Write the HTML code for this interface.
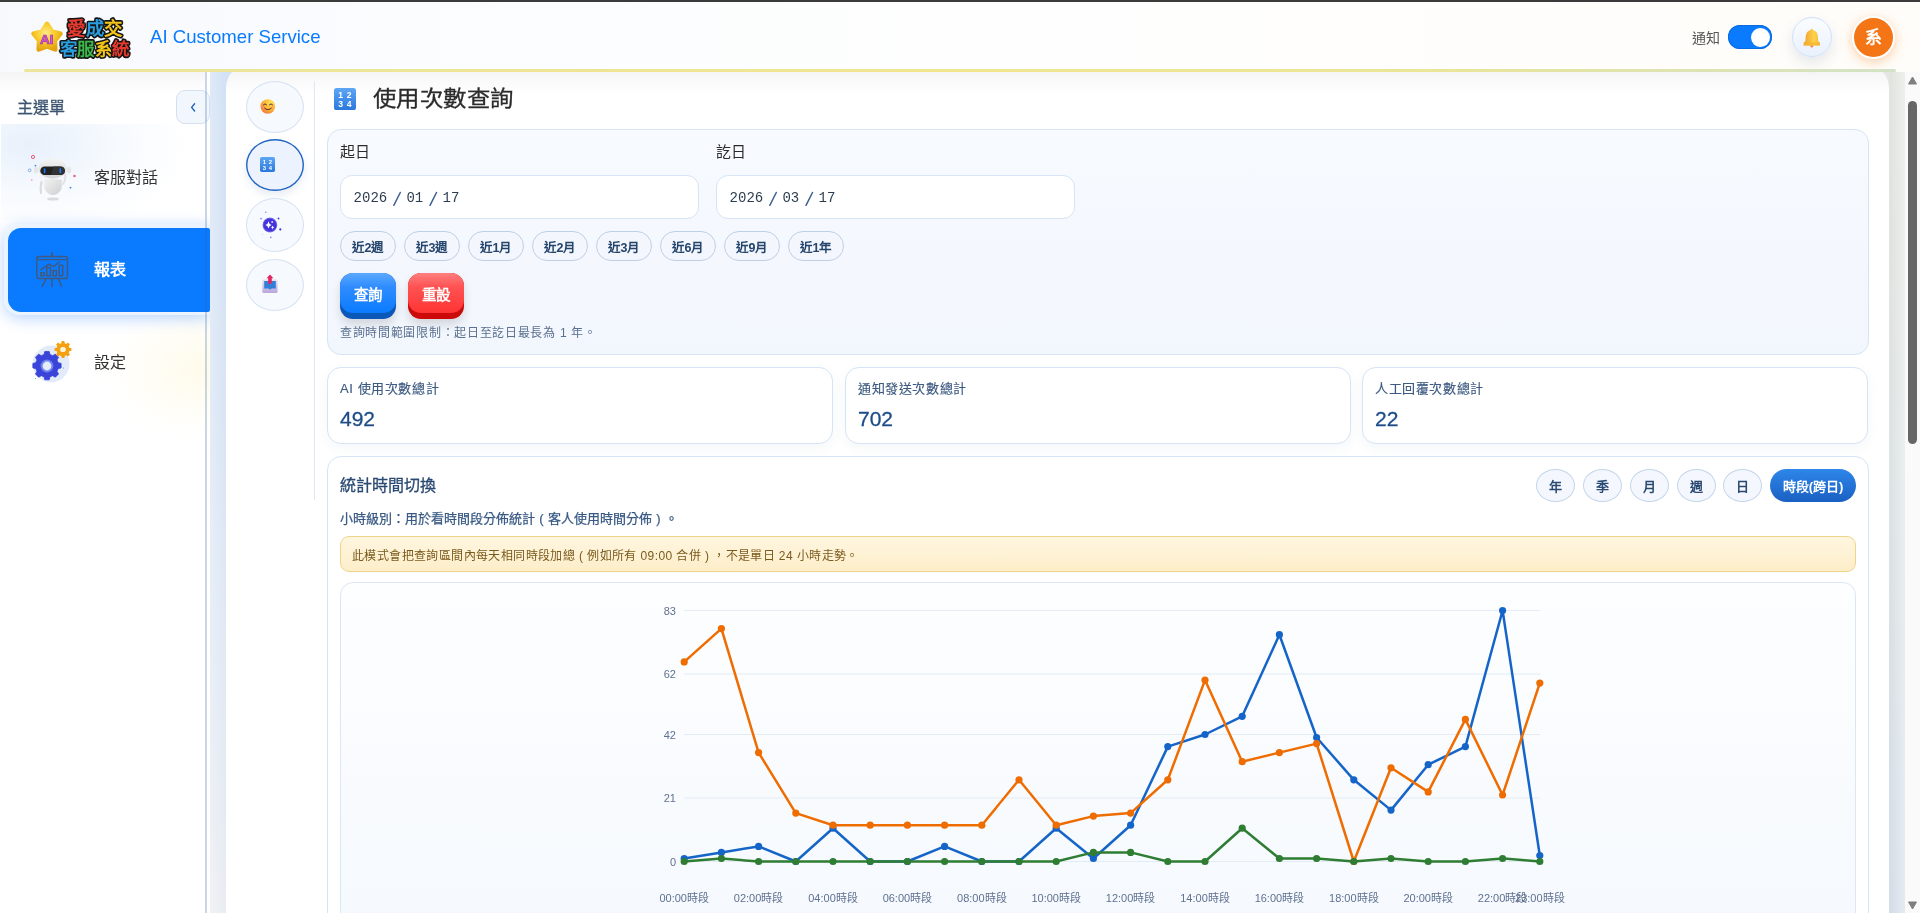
<!DOCTYPE html>
<html lang="zh-TW"><head><meta charset="utf-8">
<style>
*{box-sizing:border-box;margin:0;padding:0}
html,body{width:1920px;height:913px;overflow:hidden;background:#fff;font-family:"Liberation Sans",sans-serif;color:#333;text-spacing-trim:space-all}
.abs{position:absolute}
.fp{display:inline-block;width:1em;text-align:center}
#topline{left:0;top:0;width:1920px;height:2px;background:#3b3b3b}
#header{left:0;top:2px;width:1920px;height:70px;background:linear-gradient(90deg,#f7f9fd 0%,#fcfdfe 30%,#fefefe 55%,#fffdf9 100%)}
#hline{left:24px;top:69px;width:1872px;height:3px;border-radius:2px;background:linear-gradient(90deg,#ebe49c 0%,#f0e68f 50%,#eae597 75%,#d3e2c7 100%)}
#hshadow{left:0;top:72px;width:1905px;height:22px;background:linear-gradient(#f1f1f1,rgba(255,255,255,0))}
.title{left:150px;top:26px;font-size:18.6px;line-height:22px;color:#0a7bff;white-space:nowrap}

/* sidebar */
#sidebar{left:0;top:72px;width:205px;height:841px;background:linear-gradient(180deg,#f4f4f4 0px,#fafafa 10px,#fff 22px);overflow:hidden}
#sbline{left:205px;top:72px;width:2px;height:841px;background:rgba(40,90,160,.25)}
#lstrip{left:210px;top:72px;width:40px;height:841px;background:linear-gradient(90deg,rgba(255,255,255,.3) 0,rgba(255,255,255,0) 16px),linear-gradient(180deg,#d2e1f4 0%,#d8e4f4 40%,#dfe8f5 65%,#e9ecf1 100%)}
#rstrip{left:1865px;top:72px;width:40px;height:841px;background:linear-gradient(90deg,rgba(0,0,0,0) 24px,rgba(0,0,0,.015) 25px,rgba(255,255,255,.35) 40px),linear-gradient(180deg,#e4e7e1 0%,#e0e6e6 45%,#d7e0eb 100%)}
#scroll{left:1905px;top:72px;width:15px;height:841px;background:#fafafa}
.menuhd{left:17px;top:97.5px;font-size:16px;line-height:20px;color:#3d5470;-webkit-text-stroke:.3px #3d5470}
.collapse{left:176px;top:90px;width:34px;height:34px;border:1px solid #d3e0f1;border-radius:9px;background:#f2f7fe}
.item1bg{left:1px;top:124px;width:204px;height:96px;background:radial-gradient(ellipse 160px 90px at 30px 20px,#e8f0fb 0%,rgba(240,246,253,.6) 50%,rgba(255,255,255,0) 100%)}
.mtext{font-size:16px;line-height:20px;color:#333;white-space:nowrap}
.active{left:4px;top:224px;width:206px;height:91px;border-radius:16px 3px 3px 16px;background:rgba(232,242,255,.9);box-shadow:0 3px 16px rgba(10,110,255,.3)}
.activein{left:8px;top:228px;width:202px;height:83.5px;border-radius:13px 2px 2px 13px;background:#0a7bff}
.glow{left:90px;top:300px;width:200px;height:160px;background:radial-gradient(ellipse 110px 70px at 120px 70px,rgba(255,246,205,.42),rgba(255,255,255,0))}

/* main */
#main{left:226px;top:64px;width:1663px;height:900px;background:linear-gradient(180deg,#f5f5f5 8px,#fafafa 18px,#fff 30px);border-radius:24px 24px 0 0}
.circ{left:246px;width:58px;border:1px solid #d5e2f3;border-radius:50%;background:#f6f9fe;font-size:15px;line-height:1;display:flex;align-items:center;justify-content:center}
.circ.act{border:none;background:#ecf3fe;box-shadow:inset 0 0 0 1.4px #1f63c3,0 4px 10px rgba(40,90,160,.12)}
#sep{left:314px;top:81px;width:1px;height:419px;background:#dfe7f2}
.ptitle{left:373px;top:85.3px;transform:scaleY(.9);letter-spacing:.45px;font-size:23.4px;line-height:28px;color:#2b2b2b;-webkit-text-stroke:.35px #2b2b2b;white-space:nowrap}
.card{border:1px solid #d6e4f5;border-radius:14px}
#qcard{left:327px;top:129px;width:1542px;height:226px;background:linear-gradient(180deg,#f7faff,#f2f6fd)}
.lbl{font-size:15px;line-height:18px;color:#2b2b2b;white-space:nowrap}
.date{top:175px;width:359px;height:44px;border:1px solid #d6e4f5;border-radius:12px;background:#fff}
.dseg{position:absolute;top:14.5px;font-family:"Liberation Mono",monospace;font-size:14px;line-height:14px;color:#2d3e50;white-space:pre}
.dtext i{font-style:normal;color:#3d5d8c}
.qb{top:231px;width:56px;height:30px;border:1px solid #bdd0e6;border-radius:15px;background:#f3f7fd;font-size:12.5px;font-weight:700;color:#24446c;display:flex;align-items:center;justify-content:center;white-space:nowrap}
.btn3d{top:273px;width:56px;height:46px;border-radius:13px;box-shadow:0 6px 10px rgba(0,0,0,.13)}
.btn3d .face{position:absolute;left:0;top:0;width:56px;height:40px;border-radius:13px}
.btn3d span{position:absolute;left:0;top:13px;width:56px;text-align:center;color:#fff;font-size:14.5px;line-height:18px;font-weight:700}
.hint{left:340px;top:326px;font-size:12px;letter-spacing:.7px;line-height:14px;color:#5a7190;white-space:nowrap}
.scard{top:367px;width:506px;height:77px;background:#fff;box-shadow:0 4px 12px rgba(60,100,160,.06)}
.slbl{position:absolute;left:12px;top:12.5px;font-size:13px;letter-spacing:.6px;line-height:16px;color:#3d5a80;-webkit-text-stroke:.15px #3d5a80;white-space:nowrap}
.sval{position:absolute;left:12px;top:39px;font-size:21px;line-height:24px;color:#1d4c88;-webkit-text-stroke:.3px #1d4c88;white-space:nowrap}
#ccard{left:327px;top:456px;width:1542px;height:500px;background:#fff}
.ctitle{left:340px;top:475.5px;font-size:16px;line-height:20px;color:#2b4a73;-webkit-text-stroke:.3px #2b4a73;white-space:nowrap}
.csub{left:340px;top:510.5px;font-size:13px;line-height:16px;color:#3a5a85;-webkit-text-stroke:.25px #3a5a85;white-space:nowrap}
.warn{left:340px;top:536px;width:1516px;height:36px;border:1px solid #f0d48a;border-radius:9px;background:linear-gradient(180deg,#fff6e0,#fdeec9)}
.warn>span{position:absolute;left:11px;top:11.5px;font-size:12px;letter-spacing:.4px;line-height:14px;color:#7a5a1c;white-space:nowrap}
.rb{top:469px;width:39px;height:33px;border:1px solid #c3d5ea;border-radius:50%;background:#f4f8fe;font-size:13px;font-weight:700;color:#2b4a73;display:flex;align-items:center;justify-content:center}
.rb.on{width:86px;border-radius:17px;border:none;background:linear-gradient(180deg,#2e86ea,#1a60c2);color:#fff}
#chart{left:340px;top:582px;width:1516px;height:400px;border:1px solid #dce7f4;border-radius:13px;background:linear-gradient(180deg,#fdfeff,#f4f8fd)}
</style></head><body><div id="wrap" style="position:absolute;left:0;top:0;width:1920px;height:913px;will-change:transform">
<div id="topline" class="abs"></div>
<div id="sidebar" class="abs"></div>
<div class="abs item1bg"></div>
<div class="abs glow"></div>
<div class="abs menuhd">主選單</div>
<div class="abs collapse"></div>
<svg class="abs" style="left:186px;top:99px" width="14" height="16" viewBox="0 0 14 16"><path d="M8.6,4.8 L5.6,8.4 L8.6,12" fill="none" stroke="#1f5fbf" stroke-width="1.4" stroke-linecap="round" stroke-linejoin="round"/></svg>
<svg class="abs" style="left:20px;top:145px" width="70" height="65" viewBox="0 0 70 65">
 <defs>
  <linearGradient id="rh" x1="0" y1="0" x2="0" y2="1"><stop offset="0" stop-color="#f4f4f4"/><stop offset="1" stop-color="#d6d6d6"/></linearGradient>
  <linearGradient id="rb" x1="0" y1="0" x2="1" y2="1"><stop offset="0" stop-color="#f2f2f2"/><stop offset="1" stop-color="#cfcfcf"/></linearGradient>
 </defs>
 <ellipse cx="33" cy="54" rx="6" ry="1.6" fill="#d9dcdf"/>
 <path d="M24,35 Q33,33 42,35 L41.5,44 Q38,50 33,50 Q28,50 24.5,44 Z" fill="url(#rb)"/>
 <path d="M21.5,37 Q20,43 21,48" stroke="#dcdcdc" stroke-width="2.2" fill="none" stroke-linecap="round"/>
 <path d="M45,29 Q46,35 43,39" stroke="#e2e2e2" stroke-width="2" fill="none" stroke-linecap="round"/>
 <ellipse cx="16" cy="25" rx="2.2" ry="3.2" fill="#e6e6e6"/>
 <ellipse cx="49" cy="25" rx="2.2" ry="3.2" fill="#e6e6e6"/>
 <ellipse cx="32.5" cy="23.5" rx="14" ry="10" fill="url(#rh)"/>
 <rect x="20.3" y="21.4" width="24.6" height="8.6" rx="4.3" fill="#222"/>
 <path d="M33.5,21.4 L40,21.4 Q44.9,21.4 44.9,25.7 Q44.9,30 40,30 L31,30 Z" fill="#333"/>
 <rect x="23.8" y="23.2" width="1.6" height="5" rx=".8" fill="#1a7bff"/>
 <rect x="39.5" y="23.2" width="1.6" height="5" rx=".8" fill="#1a7bff"/>
 <circle cx="13" cy="12" r="1.6" fill="none" stroke="#e35a7a" stroke-width="1"/>
 <circle cx="15.5" cy="20.6" r=".9" fill="#3a86e8"/>
 <circle cx="9.7" cy="25.3" r="1.4" fill="none" stroke="#6aa0e8" stroke-width=".8"/>
 <circle cx="11.8" cy="35" r=".8" fill="#f08aa0"/>
 <circle cx="54.5" cy="31" r="1.2" fill="#e35a7a"/>
 <circle cx="50.5" cy="42.7" r=".9" fill="#3a86e8"/>
</svg>

<svg class="abs" style="left:30px;top:340px" width="44" height="44" viewBox="0 0 44 44">
 <circle cx="17" cy="26" r="18.5" fill="#e3ebfb" transform="translate(4,-2)"/>
 <g transform="translate(17,26)">
  <path d="M-2.6,-14 L2.6,-14 L3.4,-10.6 L6.6,-9.2 L9.7,-11 L13.4,-7.3 L11.6,-4.2 L13,-1 L16.4,-0.2 L16.4,5 L13,5.8 L11.6,9 L13.4,12.1 L9.7,15.8 L6.6,14 L3.4,15.4 L2.6,18.8 L-2.6,18.8 L-3.4,15.4 L-6.6,14 L-9.7,15.8 L-13.4,12.1 L-11.6,9 L-13,5.8 L-16.4,5 L-16.4,-0.2 L-13,-1 L-11.6,-4.2 L-13.4,-7.3 L-9.7,-11 L-6.6,-9.2 L-3.4,-10.6 Z" transform="translate(0,-2.4) scale(.86)" fill="#3a44d8" stroke="#3a44d8" stroke-width="1" stroke-linejoin="round"/>
  <circle cx="0" cy="0" r="6.4" fill="#6f86f0"/>
  <circle cx="0" cy="0" r="4.4" fill="#e6ecfc"/>
 </g>
 <g transform="translate(33,9.5)">
  <circle r="6.6" fill="#f5a00f"/>
  <circle r="2.6" fill="#fff3d6"/>
  <g fill="#f5a00f"><rect x="-1.6" y="-8.4" width="3.2" height="3" rx=".6"/><rect x="-1.6" y="5.4" width="3.2" height="3" rx=".6"/><rect x="-8.4" y="-1.6" width="3" height="3.2" rx=".6"/><rect x="5.4" y="-1.6" width="3" height="3.2" rx=".6"/>
  <rect x="-1.6" y="-8.4" width="3.2" height="3" rx=".6" transform="rotate(45)"/><rect x="-1.6" y="5.4" width="3.2" height="3" rx=".6" transform="rotate(45)"/><rect x="-8.4" y="-1.6" width="3" height="3.2" rx=".6" transform="rotate(45)"/><rect x="5.4" y="-1.6" width="3" height="3.2" rx=".6" transform="rotate(45)"/></g>
  <circle r="2.6" fill="#fff3d6"/>
 </g>
 <circle cx="33.5" cy="28" r=".6" fill="#2ec4a0"/>
 <circle cx="5.5" cy="38.5" r=".6" fill="#2ec4a0"/>
</svg>
<div class="abs mtext" style="left:94px;top:168px">客服對話</div>
<div class="abs active"></div>
<div class="abs activein"></div>
<svg class="abs" style="left:30px;top:248px" width="44" height="44" viewBox="0 0 44 44" fill="none" stroke="#40597c" stroke-width="1.5" stroke-linecap="round" stroke-linejoin="round">
 <line x1="22" y1="5" x2="22" y2="8.5" stroke-width="1.8"/>
 <rect x="6.8" y="8.6" width="30.7" height="22" rx="2.2"/>
 <line x1="8.5" y1="11.7" x2="36" y2="11.7" stroke-width="1.3"/>
 <polyline points="11,21.6 19,16.2 23.5,18.6 29.3,14"/>
 <rect x="10.8" y="24.8" width="3.6" height="3"/>
 <rect x="16.8" y="19.5" width="3.6" height="8.3"/>
 <rect x="23" y="22.6" width="3.4" height="5.2"/>
 <rect x="29.2" y="17.2" width="3.5" height="10.6"/>
 <line x1="16" y1="31" x2="12.3" y2="38.3"/>
 <line x1="22" y1="31" x2="22" y2="38.6"/>
 <line x1="28.5" y1="31" x2="31.5" y2="38.3"/>
</svg>
<div class="abs mtext" style="left:94px;top:260px;color:#fff;font-weight:700">報表</div>
<div class="abs mtext" style="left:94px;top:353px">設定</div>
<div id="sbline" class="abs"></div>
<div id="lstrip" class="abs"></div>
<div id="rstrip" class="abs"></div>
<div id="main" class="abs"></div>
<div id="scroll" class="abs"></div>
<svg class="abs" style="left:1905px;top:72px" width="15" height="841" viewBox="0 0 15 841">
 <path d="M7.5,5 L11.5,12 L3.5,12 Z" fill="#7f7f7f" stroke="#7f7f7f" stroke-width="1" stroke-linejoin="round"/>
 <rect x="3" y="29" width="9" height="343" rx="4.5" fill="#666"/>
 <path d="M7.5,837 L11.5,830 L3.5,830 Z" fill="#7f7f7f" stroke="#7f7f7f" stroke-width="1" stroke-linejoin="round"/>
</svg>

<div class="abs circ" style="top:81px;height:52px"></div>
<svg class="abs" style="left:255px;top:94px" width="26" height="26" viewBox="0 0 26 26">
 <defs><radialGradient id="sf" cx="70%" cy="25%" r="85%"><stop offset="0" stop-color="#ffe45a"/><stop offset=".55" stop-color="#fdb535"/><stop offset="1" stop-color="#f2723a"/></radialGradient></defs>
 <circle cx="12.8" cy="12.5" r="7.3" fill="url(#sf)"/>
 <ellipse cx="8.4" cy="13.3" rx="1.6" ry="1.1" fill="#f58a70" opacity=".6"/>
 <ellipse cx="17.6" cy="13.3" rx="1.6" ry="1.1" fill="#f58a70" opacity=".5"/>
 <g fill="none" stroke="#4a2a3a" stroke-width="1" stroke-linecap="round">
  <path d="M8.4,10.8 Q10,8.6 11.6,10.8"/><path d="M14.4,10.8 Q16,8.6 17.6,10.8"/>
  <path d="M9.6,14.2 Q12.8,17.3 16.2,14.2"/>
 </g>
</svg>
<div class="abs circ act" style="top:139px;height:52px"></div>
<svg class="abs" style="left:259.8px;top:156.8px" width="15" height="15" viewBox="0 0 22 22"><defs><linearGradient id="nb" x1="0" y1="0" x2="0" y2="1"><stop offset="0" stop-color="#5ea6f5"/><stop offset="1" stop-color="#2a78dc"/></linearGradient></defs><rect x="0" y="0" width="22" height="22" rx="2.6" fill="url(#nb)"/><g font-family="Liberation Sans" font-weight="700" font-size="8.6" fill="#fff" text-anchor="middle"><text x="6.6" y="10">1</text><text x="15.2" y="10">2</text><text x="6.6" y="19.2">3</text><text x="15.2" y="19.2">4</text></g></svg>
<div class="abs circ" style="top:198px;height:54px"></div>
<div class="abs circ" style="top:259px;height:52px"></div>
<svg class="abs" style="left:252px;top:208px" width="36" height="36" viewBox="0 0 36 36">
 <defs><radialGradient id="pg"><stop offset=".8" stop-color="#4433dd"/><stop offset="1" stop-color="#4433dd" stop-opacity=".6"/></radialGradient></defs>
 <circle cx="17.9" cy="17" r="7.4" fill="url(#pg)"/>
 <path d="M16.5,13.2 Q17,16.4 19.6,17 Q17,17.6 16.5,20.6 Q16,17.6 13.4,17 Q16,16.4 16.5,13.2 Z" fill="#fff"/>
 <path d="M20.6,17.6 Q20.9,19.3 22.2,19.6 Q20.9,19.9 20.6,21.4 Q20.3,19.9 19,19.6 Q20.3,19.3 20.6,17.6 Z" fill="#fff"/>
 <circle cx="20.2" cy="14.1" r="1" fill="#d8d4ff"/>
 <circle cx="13.8" cy="4.2" r=".8" fill="#8a80ee"/>
 <circle cx="9" cy="10.6" r=".9" fill="#8a80ee"/>
 <circle cx="26.5" cy="10.5" r=".9" fill="#4433dd"/>
 <circle cx="28.3" cy="21.4" r="1.1" fill="#4433dd"/>
 <circle cx="18.8" cy="29.4" r=".8" fill="#8a80ee"/>
 <circle cx="10.5" cy="26.6" r=".5" fill="#c0baf5"/>
</svg>
<svg class="abs" style="left:252px;top:266px" width="36" height="36" viewBox="0 0 36 36">
 <defs><linearGradient id="tr" x1="0" y1="0" x2="0" y2="1"><stop offset="0" stop-color="#ece6ee"/><stop offset="1" stop-color="#b9a6dc"/></linearGradient>
 <linearGradient id="ar" x1="0" y1="0" x2="1" y2="0"><stop offset="0" stop-color="#f0203a"/><stop offset="1" stop-color="#d42a8a"/></linearGradient></defs>
 <rect x="10.3" y="13.2" width="15.3" height="13.8" rx="1.6" fill="url(#tr)"/>
 <path d="M12.2,14.9 L23.8,14.9 L23.8,22.5 L19.5,22.5 Q18,24.5 16.5,22.5 L12.2,22.5 Z" fill="#2f80d8"/>
 <path d="M16.2,17.8 L16.2,12.2 L14.6,12.2 L18,8.5 L21.4,12.2 L19.8,12.2 L19.8,17.8 Z" fill="url(#ar)"/>
</svg>
<div id="sep" class="abs"></div>

<svg class="abs" style="left:334px;top:88px" width="22" height="22" viewBox="0 0 22 22"><defs><linearGradient id="nb" x1="0" y1="0" x2="0" y2="1"><stop offset="0" stop-color="#5ea6f5"/><stop offset="1" stop-color="#2a78dc"/></linearGradient></defs><rect x="0" y="0" width="22" height="22" rx="2.6" fill="url(#nb)"/><g font-family="Liberation Sans" font-weight="700" font-size="8.6" fill="#fff" text-anchor="middle"><text x="6.6" y="10">1</text><text x="15.2" y="10">2</text><text x="6.6" y="19.2">3</text><text x="15.2" y="19.2">4</text></g></svg>
<div class="abs ptitle">使用次數查詢</div>

<div id="qcard" class="abs card"></div>
<div class="abs lbl" style="left:340px;top:142.5px">起日</div>
<div class="abs lbl" style="left:716px;top:142.5px">訖日</div>
<div class="abs date" style="left:340px"><span class="dseg" style="left:12.6px">2026</span><svg class="abs" style="left:0;top:0" width="120" height="44"><g stroke="#3d6096" stroke-width="1.5" stroke-linecap="round"><line x1="59.3" y1="16.5" x2="52.8" y2="29.3"/><line x1="95.5" y1="16.5" x2="89" y2="29.3"/></g></svg><span class="dseg" style="left:65.4px">01</span><span class="dseg" style="left:101.5px">17</span></div>
<div class="abs date" style="left:716px"><span class="dseg" style="left:12.6px">2026</span><svg class="abs" style="left:0;top:0" width="120" height="44"><g stroke="#3d6096" stroke-width="1.5" stroke-linecap="round"><line x1="59.3" y1="16.5" x2="52.8" y2="29.3"/><line x1="95.5" y1="16.5" x2="89" y2="29.3"/></g></svg><span class="dseg" style="left:65.4px">03</span><span class="dseg" style="left:101.5px">17</span></div>
<div class="abs qb" style="left:340px">近2週</div>
<div class="abs qb" style="left:404px">近3週</div>
<div class="abs qb" style="left:468px">近1月</div>
<div class="abs qb" style="left:532px">近2月</div>
<div class="abs qb" style="left:596px">近3月</div>
<div class="abs qb" style="left:660px">近6月</div>
<div class="abs qb" style="left:724px">近9月</div>
<div class="abs qb" style="left:788px">近1年</div>
<div class="abs btn3d" style="left:340px;background:#0b58b8"><div class="face" style="background:linear-gradient(180deg,#5ba9ff 0%,#2f8cff 35%,#0a7bff 100%)"></div><span>查詢</span></div>
<div class="abs btn3d" style="left:408px;background:#cc0a0a"><div class="face" style="background:linear-gradient(180deg,#ff8080 0%,#ff5252 35%,#ff3434 100%)"></div><span>重設</span></div>
<div class="abs hint">查詢時間範圍限制：起日至訖日最長為 1 年。</div>

<div class="abs card scard" style="left:327px"><span class="slbl">AI 使用次數總計</span><span class="sval">492</span></div>
<div class="abs card scard" style="left:845px"><span class="slbl">通知發送次數總計</span><span class="sval">702</span></div>
<div class="abs card scard" style="left:1362px"><span class="slbl">人工回覆次數總計</span><span class="sval">22</span></div>

<div id="ccard" class="abs card"></div>
<div class="abs ctitle">統計時間切換</div>
<div class="abs csub">小時級別：用於看時間段分佈統計<span class="fp">(</span>客人使用時間分佈<span class="fp">)</span>。</div>
<div class="abs rb" style="left:1536px">年</div>
<div class="abs rb" style="left:1583px">季</div>
<div class="abs rb" style="left:1630px">月</div>
<div class="abs rb" style="left:1677px">週</div>
<div class="abs rb" style="left:1723px">日</div>
<div class="abs rb on" style="left:1770px">時段(跨日)</div>
<div class="abs warn"><span>此模式會把查詢區間內每天相同時段加總<span class="fp">(</span>例如所有 09:00 合併<span class="fp">)</span>，不是單日 24 小時走勢。</span></div>
<div id="chart" class="abs"></div>
<!--CHART-->
<svg class="abs" style="left:0;top:0" width="1920" height="913" viewBox="0 0 1920 913">
<line x1="684" x2="1540" y1="610.5" y2="610.5" stroke="#e3ebf6" stroke-width="1.2"/>
<line x1="684" x2="1540" y1="674.0" y2="674.0" stroke="#e3ebf6" stroke-width="1.2"/>
<line x1="684" x2="1540" y1="734.5" y2="734.5" stroke="#e3ebf6" stroke-width="1.2"/>
<line x1="684" x2="1540" y1="798.0" y2="798.0" stroke="#e3ebf6" stroke-width="1.2"/>
<line x1="684" x2="1540" y1="861.5" y2="861.5" stroke="#e3ebf6" stroke-width="1.2"/>
<polyline fill="none" stroke="#1565c8" stroke-width="2.5" stroke-linejoin="round" points="684.2,858.5 721.4,852.4 758.6,846.4 795.8,861.5 833.0,828.2 870.2,861.5 907.4,861.5 944.6,846.4 981.8,861.5 1019.0,861.5 1056.2,828.2 1093.4,858.5 1130.6,825.2 1167.8,746.6 1205.0,734.5 1242.2,716.3 1279.4,634.7 1316.6,737.5 1353.8,779.8 1391.0,810.1 1428.2,764.7 1465.4,746.6 1502.6,610.5 1539.8,855.5"/>
<g fill="#1565c8"><circle cx="684.2" cy="858.5" r="3.6"/><circle cx="721.4" cy="852.4" r="3.6"/><circle cx="758.6" cy="846.4" r="3.6"/><circle cx="795.8" cy="861.5" r="3.6"/><circle cx="833.0" cy="828.2" r="3.6"/><circle cx="870.2" cy="861.5" r="3.6"/><circle cx="907.4" cy="861.5" r="3.6"/><circle cx="944.6" cy="846.4" r="3.6"/><circle cx="981.8" cy="861.5" r="3.6"/><circle cx="1019.0" cy="861.5" r="3.6"/><circle cx="1056.2" cy="828.2" r="3.6"/><circle cx="1093.4" cy="858.5" r="3.6"/><circle cx="1130.6" cy="825.2" r="3.6"/><circle cx="1167.8" cy="746.6" r="3.6"/><circle cx="1205.0" cy="734.5" r="3.6"/><circle cx="1242.2" cy="716.3" r="3.6"/><circle cx="1279.4" cy="634.7" r="3.6"/><circle cx="1316.6" cy="737.5" r="3.6"/><circle cx="1353.8" cy="779.8" r="3.6"/><circle cx="1391.0" cy="810.1" r="3.6"/><circle cx="1428.2" cy="764.7" r="3.6"/><circle cx="1465.4" cy="746.6" r="3.6"/><circle cx="1502.6" cy="610.5" r="3.6"/><circle cx="1539.8" cy="855.5" r="3.6"/></g>
<polyline fill="none" stroke="#ef6c00" stroke-width="2.5" stroke-linejoin="round" points="684.2,661.9 721.4,628.6 758.6,752.6 795.8,813.1 833.0,825.2 870.2,825.2 907.4,825.2 944.6,825.2 981.8,825.2 1019.0,779.8 1056.2,825.2 1093.4,816.1 1130.6,813.1 1167.8,779.8 1205.0,680.1 1242.2,761.7 1279.4,752.6 1316.6,743.6 1353.8,861.5 1391.0,767.8 1428.2,791.9 1465.4,719.4 1502.6,795.0 1539.8,683.1"/>
<g fill="#ef6c00"><circle cx="684.2" cy="661.9" r="3.6"/><circle cx="721.4" cy="628.6" r="3.6"/><circle cx="758.6" cy="752.6" r="3.6"/><circle cx="795.8" cy="813.1" r="3.6"/><circle cx="833.0" cy="825.2" r="3.6"/><circle cx="870.2" cy="825.2" r="3.6"/><circle cx="907.4" cy="825.2" r="3.6"/><circle cx="944.6" cy="825.2" r="3.6"/><circle cx="981.8" cy="825.2" r="3.6"/><circle cx="1019.0" cy="779.8" r="3.6"/><circle cx="1056.2" cy="825.2" r="3.6"/><circle cx="1093.4" cy="816.1" r="3.6"/><circle cx="1130.6" cy="813.1" r="3.6"/><circle cx="1167.8" cy="779.8" r="3.6"/><circle cx="1205.0" cy="680.1" r="3.6"/><circle cx="1242.2" cy="761.7" r="3.6"/><circle cx="1279.4" cy="752.6" r="3.6"/><circle cx="1316.6" cy="743.6" r="3.6"/><circle cx="1353.8" cy="861.5" r="3.6"/><circle cx="1391.0" cy="767.8" r="3.6"/><circle cx="1428.2" cy="791.9" r="3.6"/><circle cx="1465.4" cy="719.4" r="3.6"/><circle cx="1502.6" cy="795.0" r="3.6"/><circle cx="1539.8" cy="683.1" r="3.6"/></g>
<polyline fill="none" stroke="#2e7d32" stroke-width="2.5" stroke-linejoin="round" points="684.2,861.5 721.4,858.5 758.6,861.5 795.8,861.5 833.0,861.5 870.2,861.5 907.4,861.5 944.6,861.5 981.8,861.5 1019.0,861.5 1056.2,861.5 1093.4,852.4 1130.6,852.4 1167.8,861.5 1205.0,861.5 1242.2,828.2 1279.4,858.5 1316.6,858.5 1353.8,861.5 1391.0,858.5 1428.2,861.5 1465.4,861.5 1502.6,858.5 1539.8,861.5"/>
<g fill="#2e7d32"><circle cx="684.2" cy="861.5" r="3.6"/><circle cx="721.4" cy="858.5" r="3.6"/><circle cx="758.6" cy="861.5" r="3.6"/><circle cx="795.8" cy="861.5" r="3.6"/><circle cx="833.0" cy="861.5" r="3.6"/><circle cx="870.2" cy="861.5" r="3.6"/><circle cx="907.4" cy="861.5" r="3.6"/><circle cx="944.6" cy="861.5" r="3.6"/><circle cx="981.8" cy="861.5" r="3.6"/><circle cx="1019.0" cy="861.5" r="3.6"/><circle cx="1056.2" cy="861.5" r="3.6"/><circle cx="1093.4" cy="852.4" r="3.6"/><circle cx="1130.6" cy="852.4" r="3.6"/><circle cx="1167.8" cy="861.5" r="3.6"/><circle cx="1205.0" cy="861.5" r="3.6"/><circle cx="1242.2" cy="828.2" r="3.6"/><circle cx="1279.4" cy="858.5" r="3.6"/><circle cx="1316.6" cy="858.5" r="3.6"/><circle cx="1353.8" cy="861.5" r="3.6"/><circle cx="1391.0" cy="858.5" r="3.6"/><circle cx="1428.2" cy="861.5" r="3.6"/><circle cx="1465.4" cy="861.5" r="3.6"/><circle cx="1502.6" cy="858.5" r="3.6"/><circle cx="1539.8" cy="861.5" r="3.6"/></g>
<g font-family="Liberation Sans" font-size="11" fill="#5f7190" text-anchor="end">
<text x="676" y="614.5">83</text>
<text x="676" y="678.0">62</text>
<text x="676" y="738.5">42</text>
<text x="676" y="802.0">21</text>
<text x="676" y="865.5">0</text>
</g><g font-family="Liberation Sans" font-size="11" fill="#5f7190" text-anchor="middle">
<text x="684.2" y="902">00:00時段</text>
<text x="758.6" y="902">02:00時段</text>
<text x="833.0" y="902">04:00時段</text>
<text x="907.4" y="902">06:00時段</text>
<text x="981.8" y="902">08:00時段</text>
<text x="1056.2" y="902">10:00時段</text>
<text x="1130.6" y="902">12:00時段</text>
<text x="1205.0" y="902">14:00時段</text>
<text x="1279.4" y="902">16:00時段</text>
<text x="1353.8" y="902">18:00時段</text>
<text x="1428.2" y="902">20:00時段</text>
<text x="1502.6" y="902">22:00時段</text>
<text x="1539.8" y="902">23:00時段</text>
</g></svg>
<!--/CHART-->

<div id="header" class="abs"></div>
<div class="abs title">AI Customer Service</div>
<svg class="abs" style="left:0;top:0" width="140" height="72" viewBox="0 0 140 72">
 <defs><radialGradient id="gstar" cx="45%" cy="35%" r="70%"><stop offset="0" stop-color="#ffe98a"/><stop offset=".5" stop-color="#f8cc2a"/><stop offset="1" stop-color="#e3a20e"/></radialGradient></defs>
 <path d="M47.0,23.8 L51.9,31.3 L60.5,33.6 L54.9,40.6 L55.3,49.5 L47.0,46.3 L38.7,49.5 L39.1,40.6 L33.5,33.6 L42.1,31.3 Z" fill="url(#gstar)" stroke="url(#gstar)" stroke-width="4.5" stroke-linejoin="round"/>
 <text x="46.8" y="43.8" text-anchor="middle" font-family="Liberation Sans" font-weight="700" font-size="13.5" fill="#d655e0" stroke="#a030b0" stroke-width=".7">AI</text>
 <g font-weight="900" font-size="18.5" stroke="#151515" stroke-width="3.2" paint-order="stroke" stroke-linejoin="round">
  <text x="67" y="34.5" fill="#e8392e">愛</text><text x="85.6" y="34.5" fill="#2a9ee0">成</text><text x="104.2" y="34.5" fill="#f5c518">交</text>
 </g>
 <g font-weight="900" font-size="17.5" stroke="#151515" stroke-width="3.2" paint-order="stroke" stroke-linejoin="round">
  <text x="59.5" y="54.5" fill="#2a9ee0">客</text><text x="77" y="54.5" fill="#3cb84a">服</text><text x="94.5" y="54.5" fill="#f5c518">系</text><text x="112" y="54.5" fill="#e8392e">統</text>
 </g>
</svg>
<div class="abs" style="left:1692px;top:29px;font-size:14px;line-height:18px;color:#555">通知</div>
<div class="abs" style="left:1728px;top:25px;width:44px;height:24px;border-radius:12px;background:#0a7bff;box-shadow:inset 0 0 0 1px #0a6ce0"></div>
<div class="abs" style="left:1750.5px;top:27.5px;width:19px;height:19px;border-radius:50%;background:#fff"></div>
<div class="abs" style="left:1792px;top:17px;width:40px;height:40px;border-radius:50%;border:1px solid #cfe0f8;background:linear-gradient(180deg,#fbfdff,#e9f1fd);box-shadow:0 6px 14px rgba(60,90,140,.14)"></div>
<svg class="abs" style="left:1795px;top:20px" width="35" height="35" viewBox="0 0 35 35">
 <defs><linearGradient id="bl" x1="0" y1="0" x2="1" y2="0"><stop offset="0" stop-color="#f0a030"/><stop offset=".65" stop-color="#fcd24a"/><stop offset="1" stop-color="#f6bb35"/></linearGradient></defs>
 <circle cx="16.8" cy="26" r="1.5" fill="#f08a4a"/>
 <path d="M16.8,8.8 Q17.8,8.8 17.9,10 Q22.3,11 22.8,16 L23.3,21.6 Q24.9,22 24.9,23.2 L24.9,25.6 L8.7,25.6 L8.7,23.2 Q8.7,22 10.3,21.6 L10.8,16 Q11.3,11 15.7,10 Q15.8,8.8 16.8,8.8 Z" fill="url(#bl)"/>
 <rect x="8.7" y="22.6" width="16.2" height="3" rx=".6" fill="#f5b330" opacity=".7"/>
</svg>
<div class="abs" style="left:1852px;top:15.5px;width:43px;height:43px;border-radius:50%;border:2.5px solid #fff;background:#f47516;box-shadow:0 3px 12px rgba(244,117,22,.35);color:#fff;font-size:17px;font-weight:700;line-height:1;display:flex;align-items:center;justify-content:center">系</div>
<div id="hline" class="abs"></div>
</div></body></html>
